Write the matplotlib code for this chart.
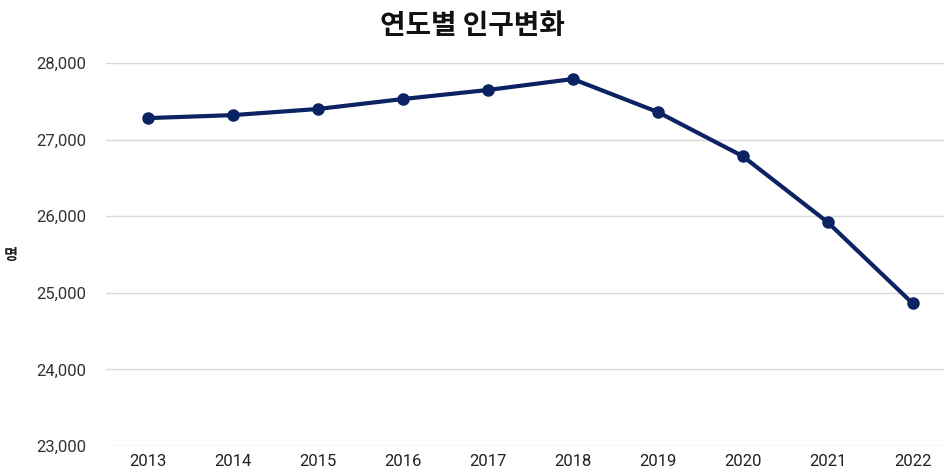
import matplotlib
matplotlib.use('agg')
import matplotlib.pyplot as plt

plt.rcParams['font.family'] = ['Noto Sans CJK KR', 'DejaVu Sans']

years = ['2013', '2014', '2015', '2016', '2017', '2018', '2019', '2020', '2021', '2022']
population = [27281, 27320, 27400, 27530, 27648, 27791, 27360, 26784, 25922, 24863]
yticks = [23000, 24000, 25000, 26000, 27000, 28000]

fig = plt.figure(figsize=(9.44, 4.72), dpi=100)
ax = fig.add_axes([0.112, 0.055, 0.888, 0.8115])

x = list(range(len(years)))
ax.plot(x, population, color='#0b2263', linewidth=3, marker='o', markersize=8, zorder=3)

ax.set_xlim(-0.5, 9.37)
ax.set_ylim(23000, 28000)
ax.set_yticks(yticks)
ax.set_yticklabels([f'{v:,}' for v in yticks], fontsize=12, color='#333333', family='Roboto')
ax.set_xticks(x)
ax.set_xticklabels(years, fontsize=12, color='#222222', family='Roboto')
ax.tick_params(length=0, pad=6)
ax.tick_params(axis='y', pad=14)
ax.grid(axis='y', color='#d9d9d9', linewidth=1)
ax.set_axisbelow(True)
for s in ax.spines.values():
    s.set_visible(False)

ax.set_ylabel('명', rotation=0, fontsize=11, fontweight='bold', color='#222222', labelpad=18, va='center')
fig.text(0.5, 0.945, '연도별 인구변화', ha='center', va='center', fontsize=20, fontweight='bold', color='#111111')

fig.savefig('out.png', dpi=100)
